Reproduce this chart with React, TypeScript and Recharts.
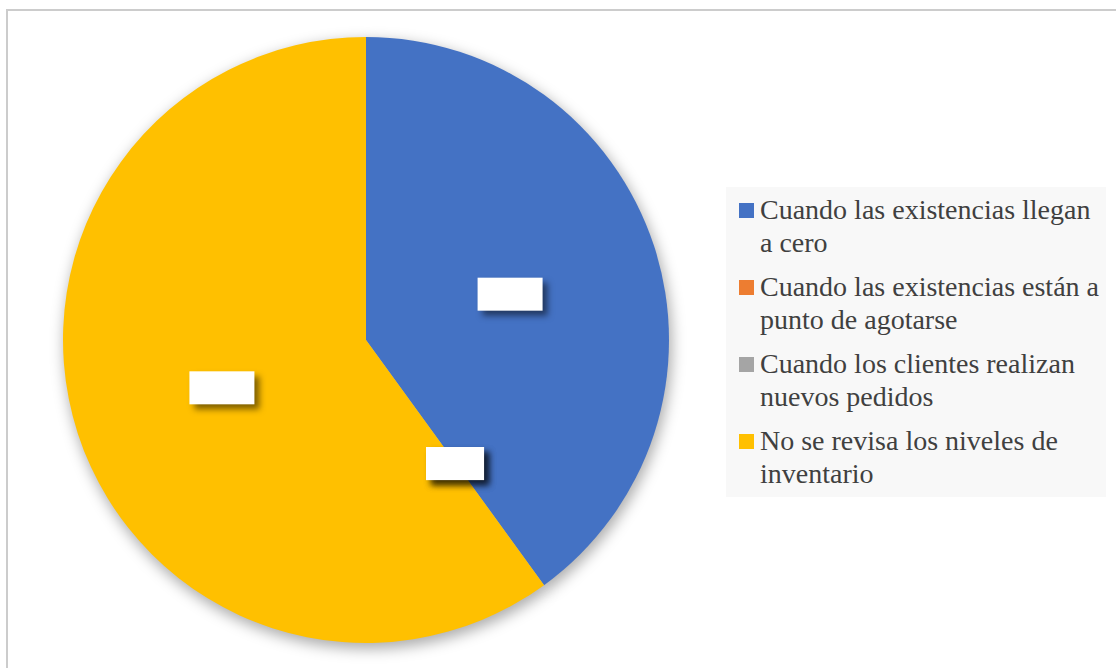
import React from "react";
import { PieChart, Pie, Cell, Legend } from "recharts";

const categories = [
  "Cuando las existencias llegan a cero",
  "Cuando las existencias están a punto de agotarse",
  "Cuando los clientes realizan nuevos pedidos",
  "No se revisa los niveles de inventario",
];
const shares = [40, 0, 0, 60];
const colors = ["#4472C4", "#ED7D31", "#A5A5A5", "#FFC000"];

const data = categories.map((name, i) => ({ name, value: shares[i] }));

const RAD = Math.PI / 180;

// white data-label boxes (text is white on white in the original)
const BoxLabel = (props: any) => {
  const { cx, cy, midAngle, outerRadius, value } = props;
  const r = outerRadius * 0.5;
  const x = cx + r * Math.cos(-midAngle * RAD);
  const y = cy + r * Math.sin(-midAngle * RAD);
  const w = value > 0 ? 65 : 58;
  const h = 33;
  return (
    <g>
      <rect
        x={x - w / 2}
        y={y - h / 2 + 1}
        width={w}
        height={h}
        fill="#ffffff"
        style={{ filter: "drop-shadow(5px 5px 3px rgba(0,0,0,0.5))" }}
      />
      <text x={x} y={y} textAnchor="middle" dominantBaseline="central" fill="#ffffff">
        {""}
      </text>
    </g>
  );
};

const LegendBox = () => (
  <div
    style={{
      width: 380,
      height: 310,
      boxSizing: "border-box",
      background: "#f8f8f8",
      padding: "7px 2px 0 13px",
      fontFamily: '"Liberation Serif", "Times New Roman", serif',
      fontSize: 28,
      lineHeight: "32.5px",
      color: "#404040",
      textAlign: "left",
    }}
  >
    {categories.map((c, i) => (
      <div key={c} style={{ display: "flex", marginBottom: 12 }}>
        <span
          style={{
            flex: "0 0 15px",
            width: 15,
            height: 15,
            marginTop: 9,
            marginRight: 6,
            background: colors[i],
          }}
        />
        <span>{c}</span>
      </div>
    ))}
  </div>
);

export default function App() {
  return (
    <div style={{ position: "relative", width: 1116, height: 668, background: "#fff", overflow: "hidden" }}>
      <style>{`body{margin:0} .pie-shadow path{filter:blur(7px);}`}</style>
      <div
        style={{
          position: "absolute",
          left: 6,
          top: 9,
          width: 1200,
          height: 700,
          borderTop: "2px solid #cccccc",
          borderLeft: "2px solid #cccccc",
        }}
      />
      <div style={{ position: "absolute", left: 0, top: 0 }}>
        <PieChart width={1116} height={668} margin={{ top: 0, right: 0, bottom: 0, left: 0 }}>
          <Pie
            className="pie-shadow"
            data={data}
            dataKey="value"
            cx={368}
            cy={345}
            outerRadius={304}
            startAngle={90}
            endAngle={-270}
            stroke="none"
            fill="rgba(0,0,0,0.32)"
            isAnimationActive={false}
            legendType="none"
          />
          <Pie
            data={data}
            dataKey="value"
            nameKey="name"
            cx={366}
            cy={340}
            outerRadius={303}
            startAngle={90}
            endAngle={-270}
            stroke="none"
            labelLine={false}
            label={BoxLabel}
            isAnimationActive={false}
          >
            {data.map((d, i) => (
              <Cell key={d.name} fill={colors[i]} />
            ))}
          </Pie>
          <Legend
            content={LegendBox}
            wrapperStyle={{ position: "absolute", left: 726, top: 187, width: 380 }}
          />
        </PieChart>
      </div>
    </div>
  );
}
